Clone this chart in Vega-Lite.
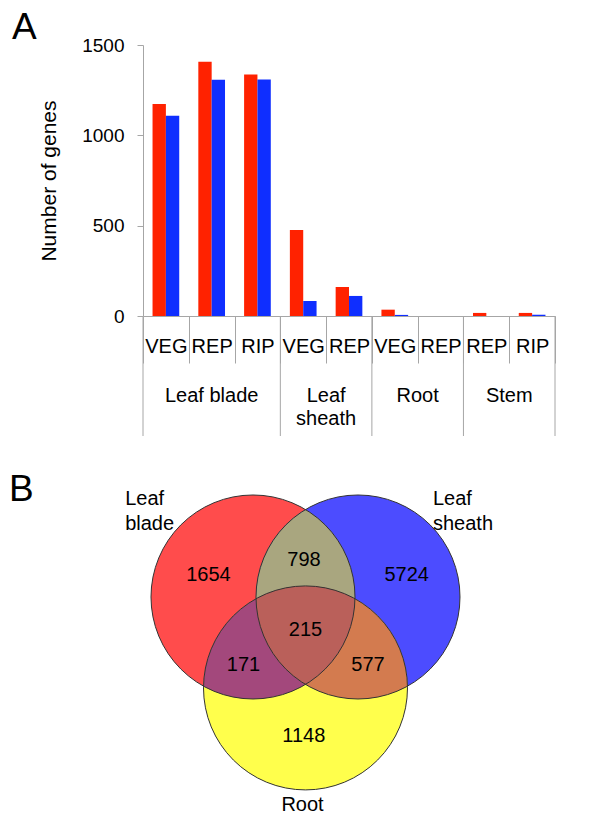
{
  "$schema": "https://vega.github.io/schema/vega-lite/v6.json",
  "background": "white",
  "padding": {"left": 9, "top": 9, "right": 0, "bottom": 0},
  "spacing": 4,
  "resolve": {"scale": {"color": "independent"}},
  "config": {"font": "Liberation Sans", "view": {"stroke": null}, "title": {"fontWeight": "normal", "color": "#000"}},
  "datasets": {
    "genes": [
      {"cat": "Leaf blade|VEG", "series": "Series 1", "genes": 1173},
      {"cat": "Leaf blade|VEG", "series": "Series 2", "genes": 1108},
      {"cat": "Leaf blade|REP", "series": "Series 1", "genes": 1407},
      {"cat": "Leaf blade|REP", "series": "Series 2", "genes": 1307},
      {"cat": "Leaf blade|RIP", "series": "Series 1", "genes": 1337},
      {"cat": "Leaf blade|RIP", "series": "Series 2", "genes": 1309},
      {"cat": "Leaf sheath|VEG", "series": "Series 1", "genes": 476},
      {"cat": "Leaf sheath|VEG", "series": "Series 2", "genes": 83},
      {"cat": "Leaf sheath|REP", "series": "Series 1", "genes": 160},
      {"cat": "Leaf sheath|REP", "series": "Series 2", "genes": 111},
      {"cat": "Root|VEG", "series": "Series 1", "genes": 35},
      {"cat": "Root|VEG", "series": "Series 2", "genes": 6},
      {"cat": "Root|REP", "series": "Series 1", "genes": 0},
      {"cat": "Root|REP", "series": "Series 2", "genes": 0},
      {"cat": "Stem|REP", "series": "Series 1", "genes": 17},
      {"cat": "Stem|REP", "series": "Series 2", "genes": 0},
      {"cat": "Stem|RIP", "series": "Series 1", "genes": 17},
      {"cat": "Stem|RIP", "series": "Series 2", "genes": 7}
    ],
    "groups": [
      {"group": "Leaf blade", "first": "Leaf blade|VEG", "middle": "Leaf blade|REP", "last": "Leaf blade|RIP", "label": "Leaf blade"},
      {"group": "Leaf sheath", "first": "Leaf sheath|VEG", "middle": "Leaf sheath|REP", "last": "Leaf sheath|REP", "label": "Leaf\nsheath"},
      {"group": "Root", "first": "Root|VEG", "middle": "Root|REP", "last": "Root|REP", "label": "Root"},
      {"group": "Stem", "first": "Stem|REP", "middle": "Stem|RIP", "last": "Stem|RIP", "label": "Stem"}
    ],
    "vennSets": [
      {"region": "Leaf blade", "x": -0.5147, "y": 0.2972},
      {"region": "Leaf sheath", "x": 0.5147, "y": 0.2972},
      {"region": "Root", "x": 0, "y": -0.5943}
    ],
    "vennPairs": [
      {"region": "Leaf blade & Leaf sheath", "x": 0, "y": 0.2972},
      {"region": "Leaf blade & Root", "x": -0.2574, "y": -0.1486},
      {"region": "Leaf sheath & Root", "x": 0.2574, "y": -0.1486}
    ],
    "vennCore": [
      {"region": "All three", "x": 0, "y": 0}
    ],
    "vennCounts": [
      {"region": "Leaf blade", "n": 1654, "x": -0.951, "y": 0.516},
      {"region": "Leaf sheath", "n": 5724, "x": 0.992, "y": 0.516},
      {"region": "Root", "n": 1148, "x": -0.017, "y": -1.063},
      {"region": "Leaf blade & Leaf sheath", "n": 798, "x": -0.015, "y": 0.663},
      {"region": "Leaf blade & Root", "n": 171, "x": -0.608, "y": -0.367},
      {"region": "Leaf sheath & Root", "n": 577, "x": 0.613, "y": -0.367},
      {"region": "All three", "n": 215, "x": 0, "y": -0.0235}
    ],
    "vennLabels": [
      {"label": "Leaf\nblade", "x": -1.768, "y": 1.358},
      {"label": "Leaf\nsheath", "x": 1.25, "y": 1.358},
      {"label": "Root", "x": -0.236, "y": -1.64}
    ]
  },
  "vconcat": [
    {
      "width": 412,
      "height": 271,
      "title": {"text": "A", "anchor": "start", "frame": "group", "fontSize": 37, "dx": -131, "offset": -11},
      "layer": [
        {
          "data": {"name": "genes"},
          "mark": {"type": "bar"},
          "encoding": {
            "x": {
              "field": "cat", "type": "nominal",
              "scale": {"domain": ["Leaf blade|VEG", "Leaf blade|REP", "Leaf blade|RIP", "Leaf sheath|VEG", "Leaf sheath|REP", "Root|VEG", "Root|REP", "Stem|REP", "Stem|RIP"], "paddingInner": 0, "paddingOuter": 0},
              "axis": {
                "title": null, "labelExpr": "split(datum.value, '|')[1]", "labelAngle": 0,
                "labelFontSize": 20, "labelColor": "#000", "labelBaseline": "middle",
                "labelPadding": -16.3, "labelOverlap": false, "tickBand": "extent",
                "tickSize": 47, "tickColor": "#a6a6a6", "domainColor": "#a6a6a6"
              }
            },
            "xOffset": {"field": "series", "type": "nominal", "scale": {"domain": ["Series 1", "Series 2"], "paddingInner": 0, "paddingOuter": 0.715}},
            "y": {
              "field": "genes", "type": "quantitative",
              "scale": {"domain": [0, 1500], "nice": false},
              "axis": {
                "title": "Number of genes", "titleFontSize": 21, "titleFontWeight": "normal", "titleColor": "#000",
                "titlePadding": 22, "values": [0, 500, 1000, 1500], "format": "d",
                "labelFontSize": 19, "labelColor": "#000", "labelPadding": 13, "tickSize": 6,
                "tickColor": "#a6a6a6", "domainColor": "#a6a6a6", "grid": false
              }
            },
            "color": {"field": "series", "type": "nominal", "scale": {"domain": ["Series 1", "Series 2"], "range": ["#ff2200", "#0f2eff"]}, "legend": null}
          }
        },
        {
          "data": {"name": "groups"},
          "mark": {"type": "rule", "color": "#a6a6a6", "strokeWidth": 1, "y2Offset": 120},
          "encoding": {
            "x": {"field": "first", "type": "nominal", "bandPosition": 0},
            "y": {"datum": 0},
            "y2": {"datum": 0}
          }
        },
        {
          "data": {"name": "groups"},
          "transform": [{"filter": "datum.group === 'Stem'"}],
          "mark": {"type": "rule", "color": "#a6a6a6", "strokeWidth": 1, "y2Offset": 120},
          "encoding": {
            "x": {"field": "last", "type": "nominal", "bandPosition": 1},
            "y": {"datum": 0},
            "y2": {"datum": 0}
          }
        },
        {
          "data": {"name": "groups"},
          "transform": [{"filter": "datum.group === 'Leaf blade'"}],
          "mark": {"type": "text", "fontSize": 20, "baseline": "top", "align": "center", "color": "#000", "lineBreak": "\n", "lineHeight": 23.5, "yOffset": 69.7},
          "encoding": {
            "x": {"field": "middle", "type": "nominal", "bandPosition": 0.5},
            "y": {"datum": 0},
            "text": {"field": "label"}
          }
        },
        {
          "data": {"name": "groups"},
          "transform": [{"filter": "datum.group !== 'Leaf blade'"}],
          "mark": {"type": "text", "fontSize": 20, "baseline": "top", "align": "center", "color": "#000", "lineBreak": "\n", "lineHeight": 23.5, "yOffset": 69.7},
          "encoding": {
            "x": {"field": "last", "type": "nominal", "bandPosition": 0},
            "y": {"datum": 0},
            "text": {"field": "label"}
          }
        }
      ]
    },
    {
      "width": 412,
      "height": 380,
      "title": {"text": "B", "anchor": "start", "frame": "group", "fontSize": 37, "dx": -134, "offset": -67.6},
      "layer": [
        {
          "data": {"name": "vennSets"},
          "mark": {"type": "point", "shape": "circle", "size": 41616, "filled": true, "opacity": 1, "strokeWidth": 0},
          "encoding": {
            "x": {"field": "x", "type": "quantitative", "scale": {"domain": [-1.5931, 2.4461], "nice": false, "zero": false}, "axis": null},
            "y": {"field": "y", "type": "quantitative", "scale": {"domain": [-1.899, 1.8265], "nice": false, "zero": false}, "axis": null},
            "color": {
              "field": "region", "type": "nominal", "legend": null,
              "scale": {
                "domain": ["Leaf blade", "Leaf sheath", "Root", "Leaf blade & Leaf sheath", "Leaf blade & Root", "Leaf sheath & Root", "All three"],
                "range": ["#ff4c4c", "#4c4cff", "#ffff4c", "#a9a67f", "#a3487c", "#d37b4f", "#ba605a"]
              }
            }
          }
        },
        {
          "data": {"name": "vennPairs"},
          "transform": [{"filter": "datum.region === 'Leaf blade & Leaf sheath'"}],
          "mark": {"type": "point", "shape": "M0,-0.8574A1,1,0,0,1,0,0.8574A1,1,0,0,1,0,-0.8574Z", "size": 41616, "angle": 0, "filled": true, "opacity": 1, "strokeWidth": 0},
          "encoding": {
            "x": {"field": "x", "type": "quantitative", "scale": {"domain": [-1.5931, 2.4461], "nice": false, "zero": false}, "axis": null},
            "y": {"field": "y", "type": "quantitative", "scale": {"domain": [-1.899, 1.8265], "nice": false, "zero": false}, "axis": null},
            "color": {"field": "region", "type": "nominal", "legend": null}
          }
        },
        {
          "data": {"name": "vennPairs"},
          "transform": [{"filter": "datum.region === 'Leaf blade & Root'"}],
          "mark": {"type": "point", "shape": "M0,-0.8574A1,1,0,0,1,0,0.8574A1,1,0,0,1,0,-0.8574Z", "size": 41616, "angle": 60, "filled": true, "opacity": 1, "strokeWidth": 0},
          "encoding": {
            "x": {"field": "x", "type": "quantitative", "scale": {"domain": [-1.5931, 2.4461], "nice": false, "zero": false}, "axis": null},
            "y": {"field": "y", "type": "quantitative", "scale": {"domain": [-1.899, 1.8265], "nice": false, "zero": false}, "axis": null},
            "color": {"field": "region", "type": "nominal", "legend": null}
          }
        },
        {
          "data": {"name": "vennPairs"},
          "transform": [{"filter": "datum.region === 'Leaf sheath & Root'"}],
          "mark": {"type": "point", "shape": "M0,-0.8574A1,1,0,0,1,0,0.8574A1,1,0,0,1,0,-0.8574Z", "size": 41616, "angle": 120, "filled": true, "opacity": 1, "strokeWidth": 0},
          "encoding": {
            "x": {"field": "x", "type": "quantitative", "scale": {"domain": [-1.5931, 2.4461], "nice": false, "zero": false}, "axis": null},
            "y": {"field": "y", "type": "quantitative", "scale": {"domain": [-1.899, 1.8265], "nice": false, "zero": false}, "axis": null},
            "color": {"field": "region", "type": "nominal", "legend": null}
          }
        },
        {
          "data": {"name": "vennCore"},
          "mark": {"type": "point", "shape": "M-0.4851,-0.2801A1,1,0,0,1,0.4851,-0.2801A1,1,0,0,1,0,0.5602A1,1,0,0,1,-0.4851,-0.2801Z", "size": 41616, "filled": true, "opacity": 1, "strokeWidth": 0},
          "encoding": {
            "x": {"field": "x", "type": "quantitative", "scale": {"domain": [-1.5931, 2.4461], "nice": false, "zero": false}, "axis": null},
            "y": {"field": "y", "type": "quantitative", "scale": {"domain": [-1.899, 1.8265], "nice": false, "zero": false}, "axis": null},
            "color": {"field": "region", "type": "nominal", "legend": null}
          }
        },
        {
          "data": {"name": "vennSets"},
          "mark": {"type": "point", "shape": "circle", "size": 41616, "filled": false, "fill": null, "stroke": "#333333", "strokeWidth": 1, "opacity": 1},
          "encoding": {
            "x": {"field": "x", "type": "quantitative", "scale": {"domain": [-1.5931, 2.4461], "nice": false, "zero": false}, "axis": null},
            "y": {"field": "y", "type": "quantitative", "scale": {"domain": [-1.899, 1.8265], "nice": false, "zero": false}, "axis": null}
          }
        },
        {
          "data": {"name": "vennCounts"},
          "mark": {"type": "text", "fontSize": 20, "baseline": "middle", "align": "center", "color": "#000"},
          "encoding": {
            "x": {"field": "x", "type": "quantitative", "scale": {"domain": [-1.5931, 2.4461], "nice": false, "zero": false}, "axis": null},
            "y": {"field": "y", "type": "quantitative", "scale": {"domain": [-1.899, 1.8265], "nice": false, "zero": false}, "axis": null},
            "text": {"field": "n", "type": "quantitative", "format": "d"}
          }
        },
        {
          "data": {"name": "vennLabels"},
          "mark": {"type": "text", "fontSize": 20, "baseline": "top", "align": "left", "color": "#000", "lineBreak": "\n", "lineHeight": 25},
          "encoding": {
            "x": {"field": "x", "type": "quantitative", "scale": {"domain": [-1.5931, 2.4461], "nice": false, "zero": false}, "axis": null},
            "y": {"field": "y", "type": "quantitative", "scale": {"domain": [-1.899, 1.8265], "nice": false, "zero": false}, "axis": null},
            "text": {"field": "label"}
          }
        }
      ]
    }
  ]
}
